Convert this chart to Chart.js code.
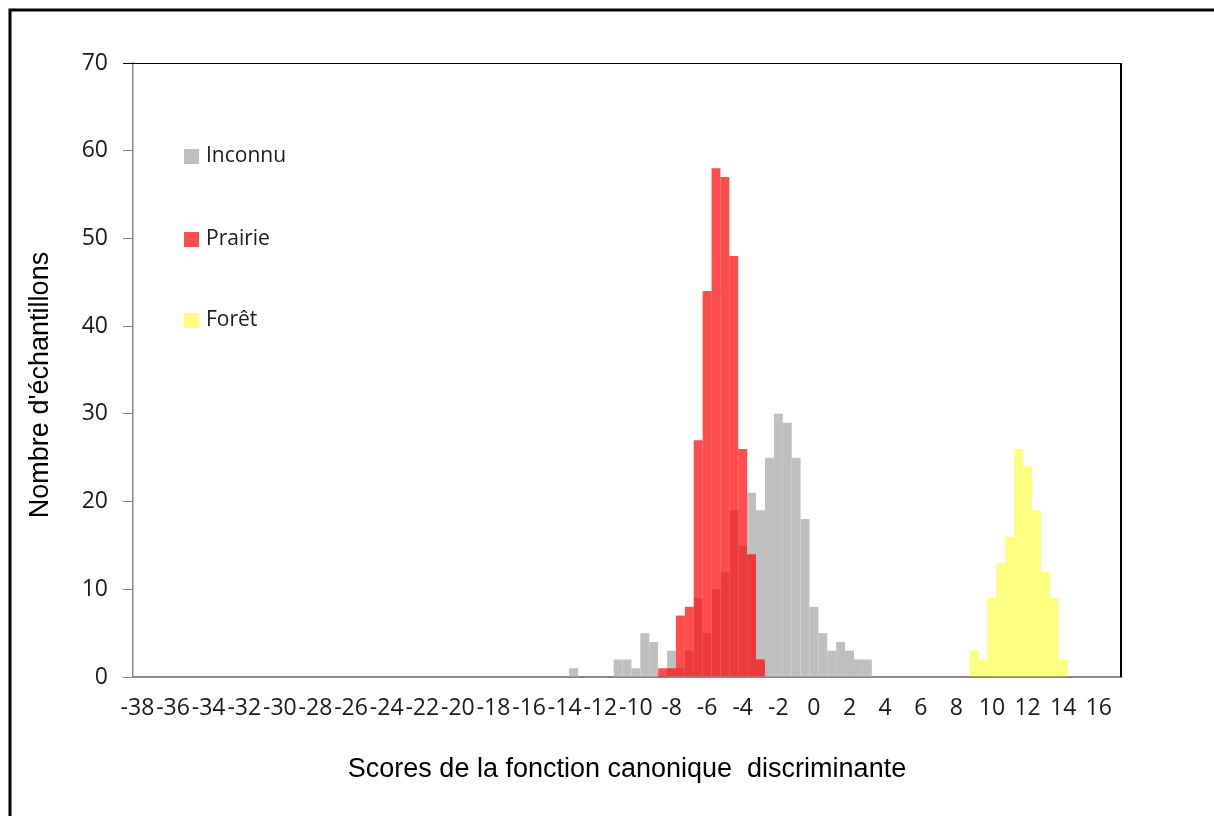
<!DOCTYPE html>
<html>
<head>
<meta charset="utf-8">
<script src="https://cdn.jsdelivr.net/npm/chart.js@4.4.1/dist/chart.umd.min.js"></script>
<style>
  html, body { margin: 0; padding: 0; background: #fff; }
</style>
</head>
<body>
<canvas id="histChart" width="1214" height="816"></canvas>
<script>
// bins of 0.5 on the discriminant score axis
const categories = [];
for (let v = -38; v <= 17; v += 0.5) categories.push(v);

const seriesNames = ["Inconnu", "Prairie", "Forêt"];

// counts per bin, each list starts at its first bin
const inconnuStart = -13.5;
const inconnuCounts = [1, 0, 0, 0, 0, 2, 2, 1, 5, 4, 0, 3, 1, 3, 9, 5, 10, 12, 19, 15,
                       21, 19, 25, 30, 29, 25, 18, 8, 5, 3, 4, 3, 2, 2];
const prairieStart = -8.5;
const prairieCounts = [1, 1, 7, 8, 27, 44, 58, 57, 48, 26, 14, 2];
const foretStart = 9;
const foretCounts = [3, 2, 9, 13, 16, 26, 24, 19, 12, 9, 2];

const yTicks = [0, 10, 20, 30, 40, 50, 60, 70];
const yTitle = "Nombre d'échantillons";

function toSeries(start, counts) {
    return categories.map(c => {
        const i = Math.round((c - start) * 2);
        return (i >= 0 && i < counts.length) ? counts[i] : null;
    });
}

const axisGrey = "#878787";
const textColor = "#1a1a1a";
const tickFont = { family: "'Open Sans'", size: 23 };

const framePlugin = {
    id: "frame",
    afterDraw(chart) {
        const ctx = chart.ctx;
        const a = chart.chartArea;
        ctx.save();
        // plot top and right borders
        ctx.strokeStyle = "#000";
        ctx.lineWidth = 1;
        ctx.beginPath();
        ctx.moveTo(a.left - 10, a.top + 0.5);
        ctx.lineTo(a.right, a.top + 0.5);
        ctx.stroke();
        ctx.lineWidth = 2;
        ctx.beginPath();
        ctx.moveTo(a.right, a.top);
        ctx.lineTo(a.right, a.bottom);
        ctx.stroke();
        // outer chart frame (left and top visible)
        ctx.lineWidth = 3;
        ctx.beginPath();
        ctx.moveTo(10, chart.height);
        ctx.lineTo(10, 10);
        ctx.lineTo(chart.width, 10);
        ctx.stroke();

        // y axis title
        ctx.save();
        ctx.translate(41, 385);
        ctx.rotate(-Math.PI / 2);
        ctx.font = "27px 'Liberation Sans'";
        ctx.fillStyle = "#000";
        ctx.textAlign = "center";
        ctx.textBaseline = "middle";
        ctx.fillText(yTitle, 0, 0);
        ctx.restore();

        // legend inside the plot
        ctx.font = "21px 'Open Sans'";
        ctx.textBaseline = "middle";
        ctx.textAlign = "left";
        const legendY = [156, 239, 320];
        chart.data.datasets.forEach(ds => {
            const k = seriesNames.indexOf(ds.label);
            const y = legendY[k];
            ctx.fillStyle = ds.legendColor;
            ctx.fillRect(184, y - 7, 15, 15);
            ctx.fillStyle = textColor;
            ctx.fillText(ds.label, 206, y);
        });
        ctx.restore();
    }
};

new Chart(document.getElementById("histChart"), {
    type: "bar",
    data: {
        labels: categories,
        datasets: [
            {
                label: seriesNames[0],
                data: toSeries(inconnuStart, inconnuCounts),
                backgroundColor: "#bfbfbf",
                legendColor: "#bfbfbf",
                order: 3
            },
            {
                label: seriesNames[1],
                data: toSeries(prairieStart, prairieCounts),
                backgroundColor: "rgba(255, 0, 0, 0.7)",
                legendColor: "#ff4d4d",
                order: 1
            },
            {
                label: seriesNames[2],
                data: toSeries(foretStart, foretCounts),
                backgroundColor: "rgba(255, 255, 0, 0.5)",
                legendColor: "#ffff80",
                order: 2
            }
        ]
    },
    options: {
        responsive: false,
        animation: false,
        layout: { padding: { top: 63, right: 93, bottom: 0, left: 0 } },
        datasets: {
            bar: {
                grouped: false,
                barPercentage: 1,
                categoryPercentage: 1,
                borderWidth: 0,
                inflateAmount: 0
            }
        },
        plugins: {
            legend: { display: false },
            tooltip: { enabled: false }
        },
        scales: {
            x: {
                type: "category",
                offset: true,
                grid: { display: false, drawTicks: false },
                border: { display: true, color: axisGrey, width: 2 },
                ticks: {
                    autoSkip: false,
                    maxRotation: 0,
                    minRotation: 0,
                    padding: 18,
                    color: textColor,
                    font: tickFont,
                    callback: (value, index) => index % 4 === 0 ? String(categories[index]) : ""
                },
                title: {
                    display: true,
                    text: "Scores de la fonction canonique  discriminante",
                    color: "#000",
                    font: { family: "'Liberation Sans'", size: 27 },
                    padding: { top: 0, bottom: 30 }
                },
                afterFit: scale => { scale.height = 139; }
            },
            y: {
                min: 0,
                max: 70,
                afterBuildTicks: scale => { scale.ticks = yTicks.map(v => ({ value: v })); },
                grid: {
                    display: true,
                    drawOnChartArea: false,
                    drawTicks: true,
                    tickLength: 10,
                    color: axisGrey,
                    lineWidth: 1
                },
                border: { display: true, color: axisGrey, width: 1.5 },
                ticks: {
                    padding: 15,
                    color: textColor,
                    font: tickFont
                },
                afterFit: scale => { scale.width = 133; }
            }
        }
    },
    plugins: [framePlugin]
});
</script>
</body>
</html>
